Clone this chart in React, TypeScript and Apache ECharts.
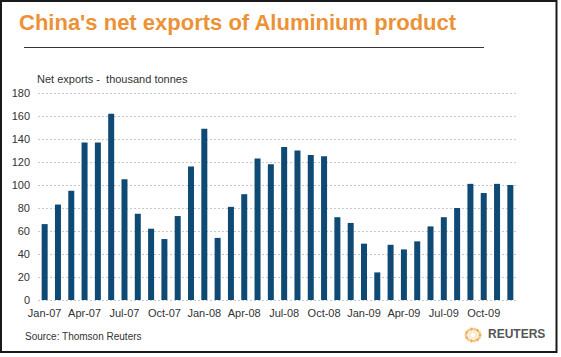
import React, { useEffect, useRef } from "react";
import * as echarts from "echarts";

const categories = [
  "Jan-07","Feb-07","Mar-07","Apr-07","May-07","Jun-07","Jul-07","Aug-07","Sep-07","Oct-07","Nov-07","Dec-07",
  "Jan-08","Feb-08","Mar-08","Apr-08","May-08","Jun-08","Jul-08","Aug-08","Sep-08","Oct-08","Nov-08","Dec-08",
  "Jan-09","Feb-09","Mar-09","Apr-09","May-09","Jun-09","Jul-09","Aug-09","Sep-09","Oct-09","Nov-09","Dec-09",
];
const netExports = [
  66, 83, 95, 137, 137, 162, 105, 75, 62, 53, 73, 116,
  149, 54, 81, 92, 123, 118, 133, 130, 126, 125, 72, 67,
  49, 24, 48, 44, 51, 64, 72, 80, 101, 93, 101, 100,
];
const yTicks = { min: 0, max: 180, interval: 20 };

const title = "China's net exports of Aluminium product";
const subtitle = "Net exports -  thousand tonnes";
const source = "Source: Thomson Reuters";

export default function App() {
  const ref = useRef<HTMLDivElement>(null);
  useEffect(() => {
    if (!ref.current) return;
    const chart = echarts.init(ref.current, null, { renderer: "svg" });
    const dots: any[] = [];
    const cx = 473, cy = 335;
    for (let i = 0; i < 14; i++) {
      const a = (i / 14) * Math.PI * 2;
      dots.push({
        type: "circle",
        shape: { cx: cx + Math.cos(a) * 7, cy: cy + Math.sin(a) * 6, r: 1.6 },
        style: { fill: i % 2 ? "#f3c27a" : "#e9a54a", opacity: 0.85 },
        silent: true,
      });
    }
    for (let i = 0; i < 8; i++) {
      const a = (i / 8) * Math.PI * 2 + 0.3;
      dots.push({
        type: "circle",
        shape: { cx: cx + Math.cos(a) * 3.5, cy: cy + Math.sin(a) * 3, r: 1.1 },
        style: { fill: "#f5d7a0", opacity: 0.8 },
        silent: true,
      });
    }
    chart.setOption({
      animation: false,
      backgroundColor: "#ffffff",
      grid: { left: 38, right: 44, top: 93, bottom: 57, containLabel: false },
      xAxis: {
        type: "category",
        data: categories,
        axisLine: { show: false },
        axisTick: { show: false },
        axisLabel: {
          interval: 2,
          margin: 7,
          color: "#333",
          fontFamily: "Liberation Sans, Arial, sans-serif",
          fontSize: 11,
        },
      },
      yAxis: {
        type: "value",
        min: yTicks.min,
        max: yTicks.max,
        interval: yTicks.interval,
        axisLine: { show: false },
        axisTick: { show: false },
        axisLabel: {
          margin: 8,
          color: "#333",
          fontFamily: "Liberation Sans, Arial, sans-serif",
          fontSize: 11,
        },
        splitLine: { lineStyle: { color: "#c8c8c8", type: [2, 2], width: 1 } },
      },
      series: [
        {
          type: "bar",
          data: netExports,
          barWidth: 6,
          itemStyle: { color: "#0f4a75" },
        },
      ],
      graphic: [
        {
          type: "rect",
          shape: { x: 1, y: 1, width: 555.5, height: 351 },
          style: { fill: "none", stroke: "#1a1a1a", lineWidth: 2 },
          silent: true,
        },
        {
          type: "text",
          left: 19,
          top: 11,
          style: {
            text: title,
            fill: "#ec9236",
            font: "bold 22px Liberation Sans, Arial, sans-serif",
          },
        },
        {
          type: "line",
          shape: { x1: 24, y1: 47.5, x2: 484, y2: 47.5 },
          style: { stroke: "#333", lineWidth: 1 },
          silent: true,
        },
        {
          type: "text",
          left: 37,
          top: 73,
          style: {
            text: subtitle,
            fill: "#333",
            font: "11px Liberation Sans, Arial, sans-serif",
          },
        },
        {
          type: "text",
          left: 25,
          top: 331,
          style: {
            text: source,
            fill: "#333",
            font: "10px Liberation Sans, Arial, sans-serif",
          },
        },
        { type: "group", children: dots },
        {
          type: "text",
          left: 488,
          top: 328,
          style: {
            text: "REUTERS",
            fill: "#555",
            font: "bold 12px Liberation Sans, Arial, sans-serif",
          },
        },
      ],
    });
    return () => chart.dispose();
  }, []);
  return (
    <div
      ref={ref}
      style={{ position: "fixed", left: 0, top: 0, width: 561, height: 357 }}
    />
  );
}
